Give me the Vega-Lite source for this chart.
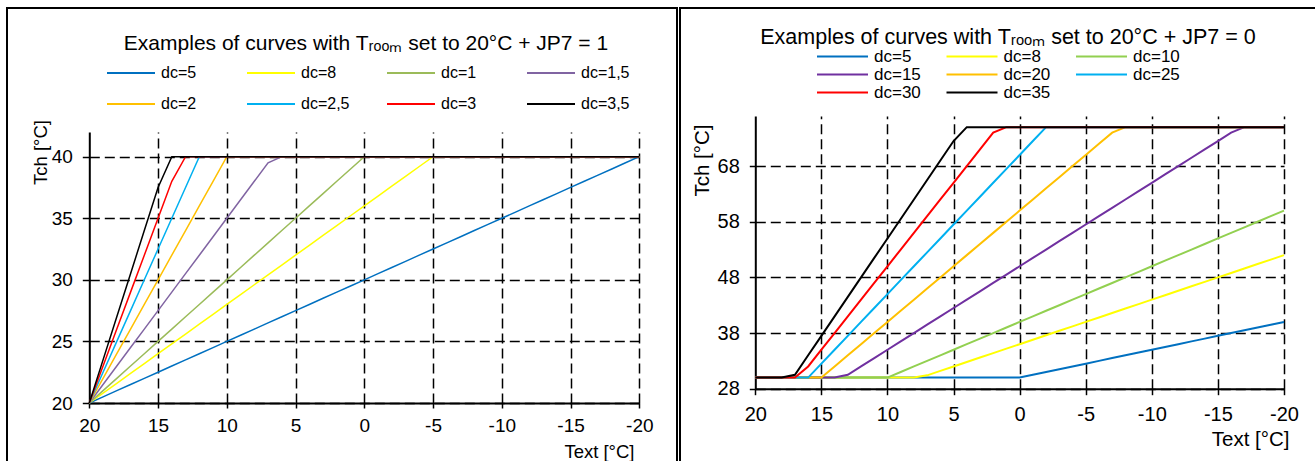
{
  "$schema": "https://vega.github.io/schema/vega-lite/v6.json",
  "padding": {"left": 6, "top": 7, "right": 0, "bottom": 0},
  "bounds": "flush",
  "spacing": 3,
  "background": "#ffffff",
  "config": {
    "font": "Liberation Sans",
    "view": {"stroke": "#000000", "strokeWidth": 2},
    "axis": {
      "domainColor": "#000000", "domainWidth": 2,
      "tickColor": "#000000", "tickWidth": 1.5,
      "labelColor": "#000000", "titleColor": "#000000",
      "labelFont": "Liberation Sans", "titleFont": "Liberation Sans", "titleFontWeight": "normal",
      "gridColor": "#000000", "gridDash": [10, 5], "gridWidth": 1.5, "gridOpacity": 1,
      "labelFlush": false, "labelOverlap": false
    },
    "legend": {"labelFont": "Liberation Sans", "labelColor": "#000000", "padding": 0},
    "title": {"font": "Liberation Sans", "color": "#000000", "fontWeight": "normal"}
  },
  "resolve": {"scale": {"color": "independent"}, "legend": {"color": "independent"}},
  "hconcat": [
    {
      "width": 670,
      "height": 456,
      "title": {"text": "Examples of curves with Tᵣₒₒₘ set to 20°C + JP7 = 1", "fontSize": 21, "anchor": "middle", "frame": "group", "offset": -57, "dx": 24, "baseline": "middle"},
      "data": {"values": [
        {"T": 20, "dc=5": 20, "dc=8": 20, "dc=1": 20, "dc=1,5": 20, "dc=2": 20, "dc=2,5": 20, "dc=3": 20, "dc=3,5": 20},
        {"T": 19, "dc=5": 20.5, "dc=8": 20.8, "dc=1": 21, "dc=1,5": 21.5, "dc=2": 22, "dc=2,5": 22.5, "dc=3": 23, "dc=3,5": 23.5},
        {"T": 18, "dc=5": 21, "dc=8": 21.6, "dc=1": 22, "dc=1,5": 23, "dc=2": 24, "dc=2,5": 25, "dc=3": 26, "dc=3,5": 27},
        {"T": 17, "dc=5": 21.5, "dc=8": 22.4, "dc=1": 23, "dc=1,5": 24.5, "dc=2": 26, "dc=2,5": 27.5, "dc=3": 29, "dc=3,5": 30.5},
        {"T": 16, "dc=5": 22, "dc=8": 23.2, "dc=1": 24, "dc=1,5": 26, "dc=2": 28, "dc=2,5": 30, "dc=3": 32, "dc=3,5": 34},
        {"T": 15, "dc=5": 22.5, "dc=8": 24, "dc=1": 25, "dc=1,5": 27.5, "dc=2": 30, "dc=2,5": 32.5, "dc=3": 35, "dc=3,5": 37.5},
        {"T": 14, "dc=5": 23, "dc=8": 24.8, "dc=1": 26, "dc=1,5": 29, "dc=2": 32, "dc=2,5": 35, "dc=3": 38, "dc=3,5": 40},
        {"T": 13, "dc=5": 23.5, "dc=8": 25.6, "dc=1": 27, "dc=1,5": 30.5, "dc=2": 34, "dc=2,5": 37.5, "dc=3": 40, "dc=3,5": 40},
        {"T": 12, "dc=5": 24, "dc=8": 26.4, "dc=1": 28, "dc=1,5": 32, "dc=2": 36, "dc=2,5": 40, "dc=3": 40, "dc=3,5": 40},
        {"T": 11, "dc=5": 24.5, "dc=8": 27.2, "dc=1": 29, "dc=1,5": 33.5, "dc=2": 38, "dc=2,5": 40, "dc=3": 40, "dc=3,5": 40},
        {"T": 10, "dc=5": 25, "dc=8": 28, "dc=1": 30, "dc=1,5": 35, "dc=2": 40, "dc=2,5": 40, "dc=3": 40, "dc=3,5": 40},
        {"T": 9, "dc=5": 25.5, "dc=8": 28.8, "dc=1": 31, "dc=1,5": 36.5, "dc=2": 40, "dc=2,5": 40, "dc=3": 40, "dc=3,5": 40},
        {"T": 8, "dc=5": 26, "dc=8": 29.6, "dc=1": 32, "dc=1,5": 38, "dc=2": 40, "dc=2,5": 40, "dc=3": 40, "dc=3,5": 40},
        {"T": 7, "dc=5": 26.5, "dc=8": 30.4, "dc=1": 33, "dc=1,5": 39.5, "dc=2": 40, "dc=2,5": 40, "dc=3": 40, "dc=3,5": 40},
        {"T": 6, "dc=5": 27, "dc=8": 31.2, "dc=1": 34, "dc=1,5": 40, "dc=2": 40, "dc=2,5": 40, "dc=3": 40, "dc=3,5": 40},
        {"T": 5, "dc=5": 27.5, "dc=8": 32, "dc=1": 35, "dc=1,5": 40, "dc=2": 40, "dc=2,5": 40, "dc=3": 40, "dc=3,5": 40},
        {"T": 4, "dc=5": 28, "dc=8": 32.8, "dc=1": 36, "dc=1,5": 40, "dc=2": 40, "dc=2,5": 40, "dc=3": 40, "dc=3,5": 40},
        {"T": 3, "dc=5": 28.5, "dc=8": 33.6, "dc=1": 37, "dc=1,5": 40, "dc=2": 40, "dc=2,5": 40, "dc=3": 40, "dc=3,5": 40},
        {"T": 2, "dc=5": 29, "dc=8": 34.4, "dc=1": 38, "dc=1,5": 40, "dc=2": 40, "dc=2,5": 40, "dc=3": 40, "dc=3,5": 40},
        {"T": 1, "dc=5": 29.5, "dc=8": 35.2, "dc=1": 39, "dc=1,5": 40, "dc=2": 40, "dc=2,5": 40, "dc=3": 40, "dc=3,5": 40},
        {"T": 0, "dc=5": 30, "dc=8": 36, "dc=1": 40, "dc=1,5": 40, "dc=2": 40, "dc=2,5": 40, "dc=3": 40, "dc=3,5": 40},
        {"T": -1, "dc=5": 30.5, "dc=8": 36.8, "dc=1": 40, "dc=1,5": 40, "dc=2": 40, "dc=2,5": 40, "dc=3": 40, "dc=3,5": 40},
        {"T": -2, "dc=5": 31, "dc=8": 37.6, "dc=1": 40, "dc=1,5": 40, "dc=2": 40, "dc=2,5": 40, "dc=3": 40, "dc=3,5": 40},
        {"T": -3, "dc=5": 31.5, "dc=8": 38.4, "dc=1": 40, "dc=1,5": 40, "dc=2": 40, "dc=2,5": 40, "dc=3": 40, "dc=3,5": 40},
        {"T": -4, "dc=5": 32, "dc=8": 39.2, "dc=1": 40, "dc=1,5": 40, "dc=2": 40, "dc=2,5": 40, "dc=3": 40, "dc=3,5": 40},
        {"T": -5, "dc=5": 32.5, "dc=8": 40, "dc=1": 40, "dc=1,5": 40, "dc=2": 40, "dc=2,5": 40, "dc=3": 40, "dc=3,5": 40},
        {"T": -6, "dc=5": 33, "dc=8": 40, "dc=1": 40, "dc=1,5": 40, "dc=2": 40, "dc=2,5": 40, "dc=3": 40, "dc=3,5": 40},
        {"T": -7, "dc=5": 33.5, "dc=8": 40, "dc=1": 40, "dc=1,5": 40, "dc=2": 40, "dc=2,5": 40, "dc=3": 40, "dc=3,5": 40},
        {"T": -8, "dc=5": 34, "dc=8": 40, "dc=1": 40, "dc=1,5": 40, "dc=2": 40, "dc=2,5": 40, "dc=3": 40, "dc=3,5": 40},
        {"T": -9, "dc=5": 34.5, "dc=8": 40, "dc=1": 40, "dc=1,5": 40, "dc=2": 40, "dc=2,5": 40, "dc=3": 40, "dc=3,5": 40},
        {"T": -10, "dc=5": 35, "dc=8": 40, "dc=1": 40, "dc=1,5": 40, "dc=2": 40, "dc=2,5": 40, "dc=3": 40, "dc=3,5": 40},
        {"T": -11, "dc=5": 35.5, "dc=8": 40, "dc=1": 40, "dc=1,5": 40, "dc=2": 40, "dc=2,5": 40, "dc=3": 40, "dc=3,5": 40},
        {"T": -12, "dc=5": 36, "dc=8": 40, "dc=1": 40, "dc=1,5": 40, "dc=2": 40, "dc=2,5": 40, "dc=3": 40, "dc=3,5": 40},
        {"T": -13, "dc=5": 36.5, "dc=8": 40, "dc=1": 40, "dc=1,5": 40, "dc=2": 40, "dc=2,5": 40, "dc=3": 40, "dc=3,5": 40},
        {"T": -14, "dc=5": 37, "dc=8": 40, "dc=1": 40, "dc=1,5": 40, "dc=2": 40, "dc=2,5": 40, "dc=3": 40, "dc=3,5": 40},
        {"T": -15, "dc=5": 37.5, "dc=8": 40, "dc=1": 40, "dc=1,5": 40, "dc=2": 40, "dc=2,5": 40, "dc=3": 40, "dc=3,5": 40},
        {"T": -16, "dc=5": 38, "dc=8": 40, "dc=1": 40, "dc=1,5": 40, "dc=2": 40, "dc=2,5": 40, "dc=3": 40, "dc=3,5": 40},
        {"T": -17, "dc=5": 38.5, "dc=8": 40, "dc=1": 40, "dc=1,5": 40, "dc=2": 40, "dc=2,5": 40, "dc=3": 40, "dc=3,5": 40},
        {"T": -18, "dc=5": 39, "dc=8": 40, "dc=1": 40, "dc=1,5": 40, "dc=2": 40, "dc=2,5": 40, "dc=3": 40, "dc=3,5": 40},
        {"T": -19, "dc=5": 39.5, "dc=8": 40, "dc=1": 40, "dc=1,5": 40, "dc=2": 40, "dc=2,5": 40, "dc=3": 40, "dc=3,5": 40},
        {"T": -20, "dc=5": 40, "dc=8": 40, "dc=1": 40, "dc=1,5": 40, "dc=2": 40, "dc=2,5": 40, "dc=3": 40, "dc=3,5": 40}
      ]},
      "transform": [{"fold": ["dc=5", "dc=8", "dc=1", "dc=1,5", "dc=2", "dc=2,5", "dc=3", "dc=3,5"], "as": ["dc", "Tch"]}],
      "layer": [
        {
          "mark": {"type": "point", "opacity": 0},
          "encoding": {
            "x": {"field": "T", "type": "quantitative", "scale": {"domain": [20, -20], "range": [82.3, 632.3], "nice": false, "zero": false},
                  "axis": {"orient": "top", "grid": true, "labels": false, "ticks": false, "domain": false, "title": null, "values": [15, 10, 5, 0, -5, -10, -15, -20]}},
            "y": {"field": "Tch", "type": "quantitative"}
          }
        },
        {
          "mark": {"type": "line", "strokeWidth": 1.5},
          "encoding": {
            "x": {"field": "T", "type": "quantitative",
                  "axis": {"orient": "bottom", "offset": -61, "grid": false, "values": [20, 15, 10, 5, 0, -5, -10, -15, -20], "labelExpr": "'' + datum.value",
                           "labelFontSize": 19, "tickSize": 5, "labelPadding": 8, "title": "Text [°C]", "titleFontSize": 18.5,
                           "titleX": 627, "titleY": 48.5, "titleAlign": "right", "titleBaseline": "middle"}},
            "y": {"field": "Tch", "type": "quantitative", "scale": {"domain": [20, 42], "range": [395, 124], "nice": false, "zero": false},
                  "axis": {"orient": "left", "offset": -82.3, "grid": true, "values": [20, 25, 30, 35, 40], "labelFontSize": 19, "tickSize": 7, "labelPadding": 10,
                           "title": "Tch [°C]", "titleFontSize": 18.5, "titleAngle": -90, "titleX": -49.3, "titleY": 144, "titleAlign": "center", "titleBaseline": "middle"}},
            "color": {"field": "dc", "type": "nominal",
                      "scale": {"domain": ["dc=5", "dc=8", "dc=1", "dc=1,5", "dc=2", "dc=2,5", "dc=3", "dc=3,5"],
                                "range": ["#0070C0", "#FFFF00", "#9BBB59", "#8064A2", "#FFC000", "#00B0F0", "#FF0000", "#000000"]},
                      "legend": {"orient": "none", "legendX": 99, "legendY": 57, "columns": 4, "direction": "horizontal", "title": null,
                                 "symbolType": "stroke", "symbolSize": 2304, "symbolStrokeWidth": 2, "labelFontSize": 16, "labelOffset": 5,
                                 "clipHeight": 16, "columnPadding": 36, "rowPadding": 15, "gridAlign": "all", "labelLimit": 200}}
          }
        }
      ]
    },
    {
      "width": 637,
      "height": 456,
      "title": {"text": "Examples of curves with Tᵣₒₒₘ set to 20°C + JP7 = 0", "fontSize": 21.5, "anchor": "middle", "frame": "group", "offset": -51, "dx": 9.5, "baseline": "middle"},
      "data": {"values": [
        {"T": 20, "dc=5": 30, "dc=8": 30, "dc=10": 30, "dc=15": 30, "dc=20": 30, "dc=25": 30, "dc=30": 30, "dc=35": 30},
        {"T": 19, "dc=5": 30, "dc=8": 30, "dc=10": 30, "dc=15": 30, "dc=20": 30, "dc=25": 30, "dc=30": 30, "dc=35": 30},
        {"T": 18, "dc=5": 30, "dc=8": 30, "dc=10": 30, "dc=15": 30, "dc=20": 30, "dc=25": 30, "dc=30": 30, "dc=35": 30},
        {"T": 17, "dc=5": 30, "dc=8": 30, "dc=10": 30, "dc=15": 30, "dc=20": 30, "dc=25": 30, "dc=30": 30, "dc=35": 30.5},
        {"T": 16, "dc=5": 30, "dc=8": 30, "dc=10": 30, "dc=15": 30, "dc=20": 30, "dc=25": 30, "dc=30": 32, "dc=35": 34},
        {"T": 15, "dc=5": 30, "dc=8": 30, "dc=10": 30, "dc=15": 30, "dc=20": 30, "dc=25": 32.5, "dc=30": 35, "dc=35": 37.5},
        {"T": 14, "dc=5": 30, "dc=8": 30, "dc=10": 30, "dc=15": 30, "dc=20": 32, "dc=25": 35, "dc=30": 38, "dc=35": 41},
        {"T": 13, "dc=5": 30, "dc=8": 30, "dc=10": 30, "dc=15": 30.5, "dc=20": 34, "dc=25": 37.5, "dc=30": 41, "dc=35": 44.5},
        {"T": 12, "dc=5": 30, "dc=8": 30, "dc=10": 30, "dc=15": 32, "dc=20": 36, "dc=25": 40, "dc=30": 44, "dc=35": 48},
        {"T": 11, "dc=5": 30, "dc=8": 30, "dc=10": 30, "dc=15": 33.5, "dc=20": 38, "dc=25": 42.5, "dc=30": 47, "dc=35": 51.5},
        {"T": 10, "dc=5": 30, "dc=8": 30, "dc=10": 30, "dc=15": 35, "dc=20": 40, "dc=25": 45, "dc=30": 50, "dc=35": 55},
        {"T": 9, "dc=5": 30, "dc=8": 30, "dc=10": 31, "dc=15": 36.5, "dc=20": 42, "dc=25": 47.5, "dc=30": 53, "dc=35": 58.5},
        {"T": 8, "dc=5": 30, "dc=8": 30, "dc=10": 32, "dc=15": 38, "dc=20": 44, "dc=25": 50, "dc=30": 56, "dc=35": 62},
        {"T": 7, "dc=5": 30, "dc=8": 30.4, "dc=10": 33, "dc=15": 39.5, "dc=20": 46, "dc=25": 52.5, "dc=30": 59, "dc=35": 65.5},
        {"T": 6, "dc=5": 30, "dc=8": 31.2, "dc=10": 34, "dc=15": 41, "dc=20": 48, "dc=25": 55, "dc=30": 62, "dc=35": 69},
        {"T": 5, "dc=5": 30, "dc=8": 32, "dc=10": 35, "dc=15": 42.5, "dc=20": 50, "dc=25": 57.5, "dc=30": 65, "dc=35": 72.5},
        {"T": 4, "dc=5": 30, "dc=8": 32.8, "dc=10": 36, "dc=15": 44, "dc=20": 52, "dc=25": 60, "dc=30": 68, "dc=35": 75},
        {"T": 3, "dc=5": 30, "dc=8": 33.6, "dc=10": 37, "dc=15": 45.5, "dc=20": 54, "dc=25": 62.5, "dc=30": 71, "dc=35": 75},
        {"T": 2, "dc=5": 30, "dc=8": 34.4, "dc=10": 38, "dc=15": 47, "dc=20": 56, "dc=25": 65, "dc=30": 74, "dc=35": 75},
        {"T": 1, "dc=5": 30, "dc=8": 35.2, "dc=10": 39, "dc=15": 48.5, "dc=20": 58, "dc=25": 67.5, "dc=30": 75, "dc=35": 75},
        {"T": 0, "dc=5": 30, "dc=8": 36, "dc=10": 40, "dc=15": 50, "dc=20": 60, "dc=25": 70, "dc=30": 75, "dc=35": 75},
        {"T": -1, "dc=5": 30.5, "dc=8": 36.8, "dc=10": 41, "dc=15": 51.5, "dc=20": 62, "dc=25": 72.5, "dc=30": 75, "dc=35": 75},
        {"T": -2, "dc=5": 31, "dc=8": 37.6, "dc=10": 42, "dc=15": 53, "dc=20": 64, "dc=25": 75, "dc=30": 75, "dc=35": 75},
        {"T": -3, "dc=5": 31.5, "dc=8": 38.4, "dc=10": 43, "dc=15": 54.5, "dc=20": 66, "dc=25": 75, "dc=30": 75, "dc=35": 75},
        {"T": -4, "dc=5": 32, "dc=8": 39.2, "dc=10": 44, "dc=15": 56, "dc=20": 68, "dc=25": 75, "dc=30": 75, "dc=35": 75},
        {"T": -5, "dc=5": 32.5, "dc=8": 40, "dc=10": 45, "dc=15": 57.5, "dc=20": 70, "dc=25": 75, "dc=30": 75, "dc=35": 75},
        {"T": -6, "dc=5": 33, "dc=8": 40.8, "dc=10": 46, "dc=15": 59, "dc=20": 72, "dc=25": 75, "dc=30": 75, "dc=35": 75},
        {"T": -7, "dc=5": 33.5, "dc=8": 41.6, "dc=10": 47, "dc=15": 60.5, "dc=20": 74, "dc=25": 75, "dc=30": 75, "dc=35": 75},
        {"T": -8, "dc=5": 34, "dc=8": 42.4, "dc=10": 48, "dc=15": 62, "dc=20": 75, "dc=25": 75, "dc=30": 75, "dc=35": 75},
        {"T": -9, "dc=5": 34.5, "dc=8": 43.2, "dc=10": 49, "dc=15": 63.5, "dc=20": 75, "dc=25": 75, "dc=30": 75, "dc=35": 75},
        {"T": -10, "dc=5": 35, "dc=8": 44, "dc=10": 50, "dc=15": 65, "dc=20": 75, "dc=25": 75, "dc=30": 75, "dc=35": 75},
        {"T": -11, "dc=5": 35.5, "dc=8": 44.8, "dc=10": 51, "dc=15": 66.5, "dc=20": 75, "dc=25": 75, "dc=30": 75, "dc=35": 75},
        {"T": -12, "dc=5": 36, "dc=8": 45.6, "dc=10": 52, "dc=15": 68, "dc=20": 75, "dc=25": 75, "dc=30": 75, "dc=35": 75},
        {"T": -13, "dc=5": 36.5, "dc=8": 46.4, "dc=10": 53, "dc=15": 69.5, "dc=20": 75, "dc=25": 75, "dc=30": 75, "dc=35": 75},
        {"T": -14, "dc=5": 37, "dc=8": 47.2, "dc=10": 54, "dc=15": 71, "dc=20": 75, "dc=25": 75, "dc=30": 75, "dc=35": 75},
        {"T": -15, "dc=5": 37.5, "dc=8": 48, "dc=10": 55, "dc=15": 72.5, "dc=20": 75, "dc=25": 75, "dc=30": 75, "dc=35": 75},
        {"T": -16, "dc=5": 38, "dc=8": 48.8, "dc=10": 56, "dc=15": 74, "dc=20": 75, "dc=25": 75, "dc=30": 75, "dc=35": 75},
        {"T": -17, "dc=5": 38.5, "dc=8": 49.6, "dc=10": 57, "dc=15": 75, "dc=20": 75, "dc=25": 75, "dc=30": 75, "dc=35": 75},
        {"T": -18, "dc=5": 39, "dc=8": 50.4, "dc=10": 58, "dc=15": 75, "dc=20": 75, "dc=25": 75, "dc=30": 75, "dc=35": 75},
        {"T": -19, "dc=5": 39.5, "dc=8": 51.2, "dc=10": 59, "dc=15": 75, "dc=20": 75, "dc=25": 75, "dc=30": 75, "dc=35": 75},
        {"T": -20, "dc=5": 40, "dc=8": 52, "dc=10": 60, "dc=15": 75, "dc=20": 75, "dc=25": 75, "dc=30": 75, "dc=35": 75}
      ]},
      "transform": [{"fold": ["dc=5", "dc=8", "dc=10", "dc=15", "dc=20", "dc=25", "dc=30", "dc=35"], "as": ["dc", "Tch"]}],
      "layer": [
        {
          "mark": {"type": "point", "opacity": 0},
          "encoding": {
            "x": {"field": "T", "type": "quantitative", "scale": {"domain": [20, -20], "range": [75.3, 604], "nice": false, "zero": false},
                  "axis": {"orient": "top", "grid": true, "labels": false, "ticks": false, "domain": false, "title": null, "values": [15, 10, 5, 0, -5, -10, -15, -20]}},
            "y": {"field": "Tch", "type": "quantitative"}
          }
        },
        {
          "mark": {"type": "line", "strokeWidth": 2},
          "encoding": {
            "x": {"field": "T", "type": "quantitative",
                  "axis": {"orient": "bottom", "offset": -75.3, "grid": false, "values": [20, 15, 10, 5, 0, -5, -10, -15, -20], "labelExpr": "'' + datum.value",
                           "labelFontSize": 20, "tickSize": 6, "labelPadding": 10, "title": "Text [°C]", "titleFontSize": 20.5,
                           "titleX": 609, "titleY": 50.5, "titleAlign": "right", "titleBaseline": "middle"}},
            "y": {"field": "Tch", "type": "quantitative", "scale": {"domain": [28, 77], "range": [380.7, 108], "nice": false, "zero": false},
                  "axis": {"orient": "left", "offset": -75.3, "grid": true, "values": [28, 38, 48, 58, 68], "labelFontSize": 20, "tickSize": 6, "labelPadding": 10,
                           "title": "Tch [°C]", "titleFontSize": 20.5, "titleAngle": -90, "titleX": -53.3, "titleY": 152, "titleAlign": "center", "titleBaseline": "middle"}},
            "color": {"field": "dc", "type": "nominal",
                      "scale": {"domain": ["dc=5", "dc=8", "dc=10", "dc=15", "dc=20", "dc=25", "dc=30", "dc=35"],
                                "range": ["#0070C0", "#FFFF00", "#92D050", "#7030A0", "#FFC000", "#00B0F0", "#FF0000", "#000000"]},
                      "legend": {"orient": "none", "legendX": 136, "legendY": 40, "columns": 3, "direction": "horizontal", "title": null,
                                 "symbolType": "stroke", "symbolSize": 2601, "symbolStrokeWidth": 2, "labelFontSize": 17, "labelOffset": 5,
                                 "clipHeight": 17, "columnPadding": 24.5, "rowPadding": 0, "gridAlign": "all", "labelLimit": 200}}
          }
        }
      ]
    }
  ]
}
